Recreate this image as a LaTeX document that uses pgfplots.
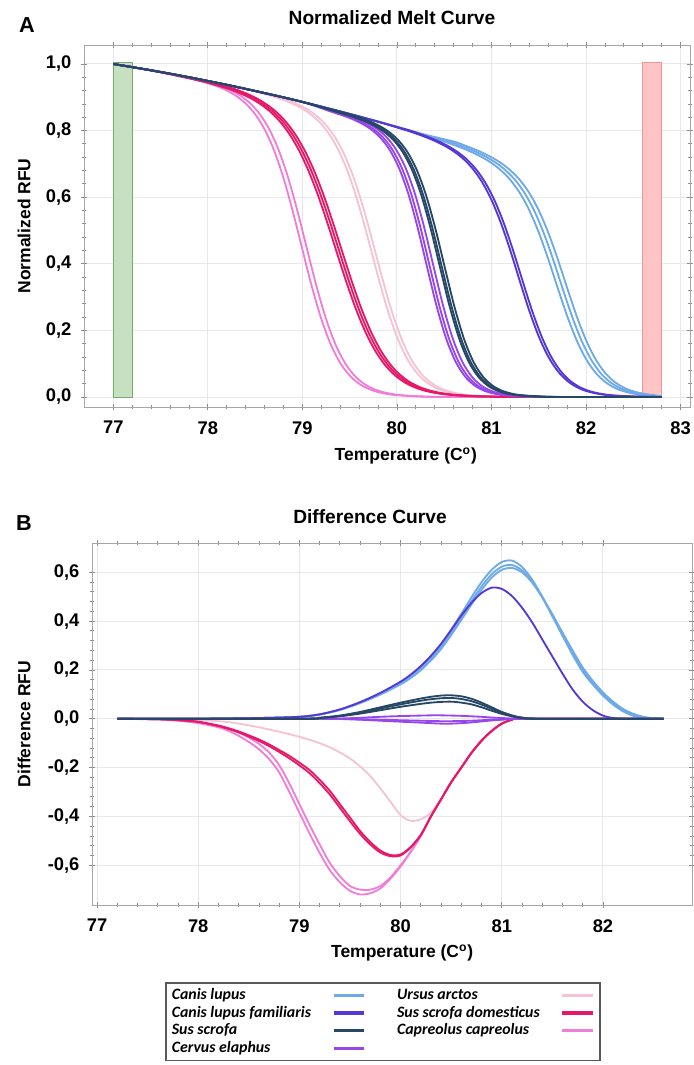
\documentclass[border=0pt]{standalone}
\usepackage{fontspec}
\setmainfont{Liberation Sans}
\newfontfamily\legfont{Carlito}
\usepackage{pgfplots}
\pgfplotsset{compat=1.18}
\usepackage{pgfplotstable}

\definecolor{clrCL}{RGB}{110,170,232}
\definecolor{clrCLF}{RGB}{85,55,215}
\definecolor{clrSS}{RGB}{38,72,102}
\definecolor{clrCE}{RGB}{150,70,235}
\definecolor{clrUA}{RGB}{245,195,212}
\definecolor{clrSSD}{RGB}{230,25,105}
\definecolor{clrCC}{RGB}{240,125,215}
\definecolor{bandG}{RGB}{198,225,192}
\definecolor{bandGd}{RGB}{120,170,110}
\definecolor{bandR}{RGB}{255,196,196}
\definecolor{bandRd}{RGB}{238,150,150}

% ---------- panel A: normalized melt curves ----------
\pgfplotstableread{
T y T2
77.0 1.0000 77.0
77.4 0.9807 77.4
77.6 0.9699 77.6
77.8 0.9578 77.85
77.9 0.9507 77.95
78.0 0.9426 78.05
78.1 0.9328 78.15
78.2 0.9205 78.25
78.3 0.9041 78.35
78.4 0.8813 78.45
78.5 0.8492 78.55
78.6 0.8038 78.65
78.7 0.7409 78.75
78.8 0.6577 78.85
78.9 0.5558 78.95
79.0 0.4430 79.05
79.1 0.3318 79.15
79.2 0.2345 79.25
79.3 0.1577 79.35
79.4 0.1022 79.45
79.5 0.0645 79.55
79.6 0.0399 79.65
79.7 0.0245 79.75
79.8 0.0149 79.85
79.9 0.0090 79.95
80.0 0.0054 80.05
80.2 0.0020 80.25
80.5 0.0000 80.55
81.5 0.0000 81.5
82.8 0.0000 82.8
}\meltCC
\pgfplotstableread{
T y T2 T3
77.0 1.0000 77.0 77.0
77.4 0.9807 77.4 77.4
77.8 0.9586 77.77 77.83
77.9 0.9522 77.87 77.93
78.0 0.9455 77.97 78.03
78.1 0.9380 78.07 78.13
78.2 0.9297 78.17 78.23
78.3 0.9201 78.27 78.33
78.4 0.9085 78.37 78.43
78.5 0.8946 78.47 78.53
78.6 0.8768 78.57 78.63
78.7 0.8543 78.67 78.73
78.8 0.8248 78.77 78.83
78.9 0.7864 78.87 78.93
79.0 0.7372 78.97 79.03
79.1 0.6755 79.07 79.13
79.2 0.6017 79.17 79.23
79.3 0.5178 79.27 79.33
79.4 0.4287 79.37 79.43
79.5 0.3411 79.47 79.53
79.6 0.2611 79.57 79.63
79.7 0.1933 79.67 79.73
79.8 0.1389 79.77 79.83
79.9 0.0976 79.87 79.93
80.0 0.0675 79.97 80.03
80.1 0.0460 80.07 80.13
80.2 0.0311 80.17 80.23
80.3 0.0209 80.27 80.33
80.4 0.0140 80.37 80.43
80.5 0.0093 80.47 80.53
80.6 0.0062 80.57 80.63
80.8 0.0027 80.77 80.83
81.0 0.0013 80.97 81.03
81.3 0.0000 81.27 81.33
82.8 0.0000 82.8 82.8
}\meltSSD
\pgfplotstableread{
T y T2
77.0 1.0000 77.0
77.4 0.9810 77.4
77.8 0.9602 77.8
78.2 0.9370 78.2
78.4 0.9241 78.44
78.6 0.9097 78.64
78.7 0.9015 78.74
78.8 0.8919 78.84
78.9 0.8802 78.94
79.0 0.8656 79.04
79.1 0.8462 79.14
79.2 0.8196 79.24
79.3 0.7824 79.34
79.4 0.7304 79.44
79.5 0.6607 79.54
79.6 0.5722 79.64
79.7 0.4693 79.74
79.8 0.3621 79.84
79.9 0.2627 79.94
80.0 0.1806 80.04
80.1 0.1188 80.14
80.2 0.0757 80.24
80.3 0.0473 80.34
80.4 0.0290 80.44
80.5 0.0177 80.54
80.6 0.0107 80.64
80.7 0.0065 80.74
80.8 0.0039 80.84
81.0 0.0014 81.04
81.3 0.0000 81.34
82.8 0.0000 82.8
}\meltUA
\pgfplotstableread{
T y Ta Tb Tc
77.0 1.0000 77.0 77.0 77.0
77.4 0.9810 77.4 77.4 77.4
77.8 0.9602 77.8 77.8 77.8
78.2 0.9374 78.2 78.2 78.2
78.6 0.9126 78.6 78.6 78.6
79.0 0.8860 79.0 79.0 79.0
79.4 0.8553 79.35 79.32 79.39
79.5 0.8462 79.45 79.42 79.49
79.6 0.8355 79.55 79.52 79.59
79.7 0.8224 79.65 79.62 79.69
79.8 0.8050 79.75 79.72 79.79
79.9 0.7802 79.85 79.82 79.89
80.0 0.7435 79.95 79.92 79.99
80.1 0.6889 80.05 80.02 80.09
80.2 0.6106 80.15 80.12 80.19
80.3 0.5076 80.25 80.22 80.29
80.4 0.3888 80.35 80.32 80.39
80.5 0.2725 80.45 80.42 80.49
80.6 0.1760 80.55 80.52 80.59
80.7 0.1066 80.65 80.62 80.69
80.8 0.0618 80.75 80.72 80.79
80.9 0.0348 80.85 80.82 80.89
81.0 0.0193 80.95 80.92 80.99
81.1 0.0106 81.05 81.02 81.09
81.2 0.0058 81.15 81.12 81.19
81.4 0.0017 81.35 81.32 81.39
81.7 0.0000 81.65 81.62 81.69
82.8 0.0000 82.8 82.8 82.8
}\meltCE
\pgfplotstableread{
T y Ta Tb Tc
77.0 1.0000 77.0 77.0 77.0
77.4 0.9810 77.4 77.4 77.4
77.8 0.9602 77.8 77.8 77.8
78.2 0.9374 78.2 78.2 78.2
78.6 0.9126 78.6 78.6 78.6
79.0 0.8860 79.0 79.0 79.0
79.5 0.8479 79.48 79.46 79.51
79.6 0.8386 79.58 79.56 79.61
79.7 0.8280 79.68 79.66 79.71
79.8 0.8148 79.78 79.76 79.81
79.9 0.7972 79.88 79.86 79.91
80.0 0.7726 79.98 79.96 80.01
80.1 0.7360 80.08 80.06 80.11
80.2 0.6818 80.18 80.16 80.21
80.3 0.6042 80.28 80.26 80.31
80.4 0.5021 80.38 80.36 80.41
80.5 0.3845 80.48 80.46 80.51
80.6 0.2693 80.58 80.56 80.61
80.7 0.1739 80.68 80.66 80.71
80.8 0.1053 80.78 80.76 80.81
80.9 0.0610 80.88 80.86 80.91
81.0 0.0343 80.98 80.96 81.01
81.1 0.0190 81.08 81.06 81.11
81.2 0.0104 81.18 81.16 81.21
81.3 0.0057 81.28 81.26 81.31
81.5 0.0017 81.48 81.46 81.51
81.8 0.0000 81.78 81.76 81.81
82.8 0.0000 82.8 82.8 82.8
}\meltSS
\pgfplotstableread{
T y T2
77.0 1.0000 77.0
77.4 0.9810 77.4
77.8 0.9602 77.8
78.2 0.9374 78.2
78.6 0.9126 78.6
79.0 0.8860 79.0
79.4 0.8574 79.4
79.8 0.8267 79.8
80.1 0.8008 80.13
80.2 0.7913 80.23
80.3 0.7809 80.33
80.4 0.7690 80.43
80.5 0.7552 80.53
80.6 0.7379 80.63
80.7 0.7158 80.73
80.8 0.6861 80.83
80.9 0.6458 80.93
81.0 0.5919 81.03
81.1 0.5224 81.13
81.2 0.4390 81.23
81.3 0.3478 81.33
81.4 0.2589 81.43
81.5 0.1818 81.53
81.6 0.1215 81.63
81.7 0.0782 81.73
81.8 0.0490 81.83
81.9 0.0301 81.93
82.0 0.0183 82.03
82.1 0.0111 82.13
82.2 0.0066 82.23
82.3 0.0040 82.33
82.5 0.0015 82.53
82.8 0.0000 82.8
}\meltCLF
\pgfplotstableread{
T y T2 T3
77.0 1.0000 77.0 77.0
77.4 0.9810 77.4 77.4
77.8 0.9602 77.8 77.8
78.2 0.9374 78.2 78.2
78.6 0.9126 78.6 78.6
79.0 0.8860 79.0 79.0
79.4 0.8574 79.4 79.4
79.8 0.8270 79.8 79.8
80.2 0.7946 80.2 80.2
80.5 0.7671 80.55 80.6
80.6 0.7571 80.65 80.7
80.7 0.7464 80.75 80.8
80.8 0.7342 80.85 80.9
80.9 0.7200 80.95 81.0
81.0 0.7028 81.05 81.1
81.1 0.6807 81.15 81.2
81.2 0.6517 81.25 81.3
81.3 0.6127 81.35 81.4
81.4 0.5607 81.45 81.5
81.5 0.4942 81.55 81.6
81.6 0.4146 81.65 81.7
81.7 0.3280 81.75 81.8
81.8 0.2438 81.85 81.9
81.9 0.1709 81.95 82.0
82.0 0.1140 82.05 82.1
82.1 0.0732 82.15 82.2
82.2 0.0458 82.25 82.3
82.3 0.0281 82.35 82.4
82.4 0.0171 82.45 82.5
82.5 0.0103 82.55 82.6
82.6 0.0062 82.65 82.7
82.8 0.0020 82.8 82.8
}\meltCL

% ---------- panel B: difference curves ----------
\pgfplotstableread{
T cl1 cl2 cl3 clf
77.2 0 0 0 0
78.0 0 0 0 0
78.6 0.003 0.003 0.003 0.003
79.0 0.008 0.008 0.008 0.008
79.2 0.018 0.018 0.017 0.018
79.4 0.038 0.037 0.036 0.038
79.6 0.068 0.066 0.064 0.068
79.8 0.105 0.102 0.099 0.106
80.0 0.150 0.146 0.141 0.152
80.1 0.178 0.173 0.167 0.181
80.2 0.212 0.206 0.199 0.216
80.3 0.255 0.247 0.239 0.258
80.4 0.305 0.295 0.286 0.307
80.5 0.365 0.353 0.343 0.364
80.6 0.430 0.416 0.405 0.423
80.7 0.497 0.481 0.468 0.475
80.8 0.560 0.542 0.528 0.515
80.9 0.610 0.592 0.578 0.537
81.0 0.642 0.623 0.610 0.532
81.1 0.648 0.630 0.618 0.503
81.2 0.622 0.608 0.600 0.455
81.3 0.570 0.562 0.558 0.395
81.4 0.500 0.497 0.498 0.325
81.5 0.420 0.422 0.428 0.255
81.6 0.340 0.345 0.353 0.185
81.7 0.262 0.270 0.280 0.120
81.8 0.192 0.200 0.210 0.070
81.9 0.140 0.146 0.155 0.035
82.0 0.095 0.101 0.108 0.013
82.1 0.058 0.064 0.070 0.003
82.2 0.030 0.035 0.040 0.000
82.3 0.012 0.016 0.020 0.000
82.4 0.004 0.006 0.008 0.000
82.5 0.000 0.001 0.002 0.000
82.6 0 0 0 0
}\diffBlue
\pgfplotstableread{
T ss1 ss2 ss3 ce1 ce2 ce3
77.2 0 0 0 0 0 0
79.0 0 0 0 0 0 0
79.2 0.004 0.004 0.003 0 0 0
79.4 0.013 0.012 0.010 0.001 -0.001 0
79.6 0.028 0.025 0.021 0.004 -0.004 -0.002
79.8 0.047 0.042 0.035 0.008 -0.008 -0.004
80.0 0.066 0.059 0.049 0.011 -0.012 -0.006
80.2 0.083 0.074 0.061 0.013 -0.016 -0.008
80.3 0.090 0.080 0.066 0.014 -0.018 -0.009
80.4 0.095 0.084 0.069 0.014 -0.020 -0.010
80.5 0.096 0.085 0.070 0.013 -0.020 -0.010
80.6 0.092 0.081 0.066 0.012 -0.018 -0.009
80.7 0.082 0.072 0.059 0.010 -0.015 -0.008
80.8 0.066 0.058 0.047 0.008 -0.011 -0.006
80.9 0.047 0.041 0.033 0.005 -0.007 -0.004
81.0 0.028 0.025 0.020 0.003 -0.004 -0.002
81.1 0.014 0.012 0.010 0.001 -0.001 -0.001
81.2 0.005 0.004 0.003 0 0 0
81.4 0 0 0 0 0 0
82.6 0 0 0 0 0 0
}\diffMid
\pgfplotstableread{
T ua ssd1 ssd2 cc1 cc2
77.2 0 0 0 0 0
77.6 0 -0.002 -0.002 -0.003 -0.002
77.8 -0.002 -0.005 -0.006 -0.008 -0.006
78.0 -0.005 -0.012 -0.013 -0.018 -0.014
78.2 -0.010 -0.028 -0.030 -0.035 -0.028
78.3 -0.014 -0.039 -0.042 -0.050 -0.040
78.4 -0.020 -0.052 -0.056 -0.070 -0.056
78.5 -0.027 -0.068 -0.073 -0.095 -0.077
78.6 -0.035 -0.085 -0.091 -0.125 -0.103
78.7 -0.044 -0.105 -0.112 -0.165 -0.138
78.8 -0.053 -0.128 -0.136 -0.220 -0.190
78.9 -0.063 -0.152 -0.162 -0.300 -0.265
79.0 -0.074 -0.180 -0.191 -0.385 -0.350
79.1 -0.086 -0.210 -0.223 -0.470 -0.435
79.2 -0.100 -0.250 -0.264 -0.550 -0.515
79.3 -0.117 -0.295 -0.310 -0.620 -0.590
79.4 -0.138 -0.350 -0.365 -0.670 -0.645
79.5 -0.163 -0.405 -0.420 -0.705 -0.685
79.6 -0.195 -0.460 -0.472 -0.720 -0.700
79.7 -0.235 -0.505 -0.515 -0.715 -0.700
79.8 -0.285 -0.540 -0.548 -0.695 -0.685
79.9 -0.340 -0.558 -0.563 -0.655 -0.650
80.0 -0.395 -0.556 -0.560 -0.605 -0.600
80.1 -0.418 -0.525 -0.527 -0.545 -0.545
80.2 -0.412 -0.475 -0.476 -0.480 -0.480
80.3 -0.385 -0.400 -0.400 -0.400 -0.400
80.4 -0.328 -0.330 -0.330 -0.330 -0.330
80.5 -0.260 -0.260 -0.260 -0.260 -0.260
80.6 -0.200 -0.200 -0.200 -0.200 -0.200
80.7 -0.140 -0.140 -0.140 -0.140 -0.140
80.8 -0.090 -0.090 -0.090 -0.090 -0.090
80.9 -0.050 -0.050 -0.050 -0.050 -0.050
81.0 -0.020 -0.020 -0.020 -0.020 -0.020
81.1 -0.004 -0.004 -0.004 -0.004 -0.004
81.2 0 0 0 0 0
82.6 0 0 0 0 0
}\diffPink

\pgfplotsset{
  hrm/.style={
    scale only axis,
    no markers,
    axis line style={black!35},
    tick style={black!45, line width=0.5pt},
    major tick length=4pt, minor tick length=2.5pt,
    tick align=center,
    minor tick num=4,
    grid=major,
    major grid style={black!9, line width=0.6pt},
    /pgf/number format/assume math mode=true,
    ticklabel style={font=\fontsize{11}{13}\selectfont\bfseries},
    xticklabel style={yshift=-3pt},
    yticklabel style={xshift=-2pt, /pgf/number format/.cd, fixed, fixed zerofill, precision=1, use comma},
    label style={font=\fontsize{10.5}{12}\selectfont\bfseries},
  },
  crv/.style={smooth, line width=1.1pt, forget plot},
}

\begin{document}
\begin{tikzpicture}
\path[use as bounding box] (0pt,0pt) rectangle (416.4pt,-639pt);

\node[font=\fontsize{13}{15}\selectfont\bfseries] at (16.2pt,-15pt) {A};
\node[font=\fontsize{11.5}{13}\selectfont\bfseries] at (235.2pt,-10.8pt) {Normalized Melt Curve};
\node[font=\fontsize{13}{15}\selectfont\bfseries] at (14.4pt,-313.8pt) {B};
\node[font=\fontsize{11.5}{13}\selectfont\bfseries] at (222pt,-310.2pt) {Difference Curve};

\begin{axis}[hrm,
  at={(50.4pt,-27pt)}, anchor=north west,
  width=363.6pt, height=217.2pt,
  xmin=76.69, xmax=83.1, ymin=-0.03, ymax=1.057,
  xtick={77,78,79,80,81,82,83},
  ytick={0,0.2,0.4,0.6,0.8,1},
  xlabel={Temperature (C\textsuperscript{o})},
  ylabel={Normalized RFU},
  xlabel style={at={(axis description cs:0.531,-0.135)}, anchor=center},
  ylabel style={at={(axis description cs:-0.099,0.5)}, anchor=center},
]
\addplot[fill=bandG, draw=bandGd, line width=0.6pt, forget plot]
  coordinates {(77,0) (77,1.005) (77.2,1.005) (77.2,0)} -- cycle;
\addplot[fill=bandR, draw=bandRd, line width=0.6pt, forget plot]
  coordinates {(82.6,0) (82.6,1.005) (82.8,1.005) (82.8,0)} -- cycle;

\addplot[crv, clrCC] table[x=T, y=y] {\meltCC};
\addplot[crv, clrCC] table[x=T2, y=y] {\meltCC};
\addplot[crv, clrUA] table[x=T, y=y] {\meltUA};
\addplot[crv, clrUA] table[x=T2, y=y] {\meltUA};
\addplot[crv, clrSSD] table[x=T2, y=y] {\meltSSD};
\addplot[crv, clrSSD] table[x=T3, y=y] {\meltSSD};
\addplot[crv, clrSSD] table[x=T, y=y] {\meltSSD};
\addplot[crv, clrCL] table[x=T, y=y] {\meltCL};
\addplot[crv, clrCL] table[x=T2, y=y] {\meltCL};
\addplot[crv, clrCL] table[x=T3, y=y] {\meltCL};
\addplot[crv, clrCLF] table[x=T, y=y] {\meltCLF};
\addplot[crv, clrCLF] table[x=T2, y=y] {\meltCLF};
\addplot[crv, clrCE] table[x=Ta, y=y] {\meltCE};
\addplot[crv, clrCE] table[x=Tb, y=y] {\meltCE};
\addplot[crv, clrCE] table[x=Tc, y=y] {\meltCE};
\addplot[crv, clrSS] table[x=Ta, y=y] {\meltSS};
\addplot[crv, clrSS] table[x=Tb, y=y] {\meltSS};
\addplot[crv, clrSS] table[x=Tc, y=y] {\meltSS};
\end{axis}

\begin{axis}[hrm,
  at={(55.2pt,-325.8pt)}, anchor=north west,
  width=360pt, height=217.2pt,
  xmin=76.95, xmax=82.88, ymin=-0.763, ymax=0.72,
  xtick={77,78,79,80,81,82},
  ytick={-0.6,-0.4,-0.2,0,0.2,0.4,0.6},
  xlabel={Temperature (C\textsuperscript{o})},
  ylabel={Difference RFU},
  xlabel style={at={(axis description cs:0.517,-0.1326)}, anchor=center},
  ylabel style={at={(axis description cs:-0.113,0.5)}, anchor=center},
  legend plot pos=right,
  legend columns=2,
  legend cell align=left,
  legend image code/.code={\draw[#1, line width=2pt] (0cm,0cm) -- (0.65cm,0cm);},
  legend style={at={(axis description cs:0.1217,-0.2140)}, anchor=north west,
    draw=black!65, line width=1pt, fill=white,
    font=\legfont\fontsize{9.5}{11}\bfseries\itshape,
    inner xsep=3pt, inner ysep=2pt,
    nodes={inner sep=0.6pt, text height=7.2pt, text depth=2.2pt},
    /tikz/every odd column/.append style={column sep=12pt},
    /tikz/every even column/.append style={column sep=18pt}},
]
\addplot[crv, clrUA] table[x=T, y=ua] {\diffPink};
\addplot[crv, clrCC] table[x=T, y=cc2] {\diffPink};
\addplot[crv, clrCC] table[x=T, y=cc1] {\diffPink};
\addplot[crv, clrSSD] table[x=T, y=ssd2] {\diffPink};
\addplot[crv, clrSSD] table[x=T, y=ssd1] {\diffPink};
\addplot[crv, clrCL] table[x=T, y=cl3] {\diffBlue};
\addplot[crv, clrCL] table[x=T, y=cl2] {\diffBlue};
\addplot[crv, clrCL] table[x=T, y=cl1] {\diffBlue};
\addplot[crv, clrCLF] table[x=T, y=clf] {\diffBlue};
\addplot[crv, clrCE] table[x=T, y=ce1] {\diffMid};
\addplot[crv, clrCE] table[x=T, y=ce2] {\diffMid};
\addplot[crv, clrCE] table[x=T, y=ce3] {\diffMid};
\addplot[crv, clrSS] table[x=T, y=ss3] {\diffMid};
\addplot[crv, clrSS] table[x=T, y=ss2] {\diffMid};
\addplot[crv, clrSS] table[x=T, y=ss1] {\diffMid};

\addlegendimage{clrCL}\addlegendentry{Canis lupus}
\addlegendimage{clrUA}\addlegendentry{Ursus arctos}
\addlegendimage{clrCLF}\addlegendentry{Canis lupus familiaris}
\addlegendimage{clrSSD}\addlegendentry{Sus scrofa domesticus}
\addlegendimage{clrSS}\addlegendentry{Sus scrofa}
\addlegendimage{clrCC}\addlegendentry{Capreolus capreolus}
\addlegendimage{clrCE}\addlegendentry{Cervus elaphus}
\end{axis}
\end{tikzpicture}
\end{document}
